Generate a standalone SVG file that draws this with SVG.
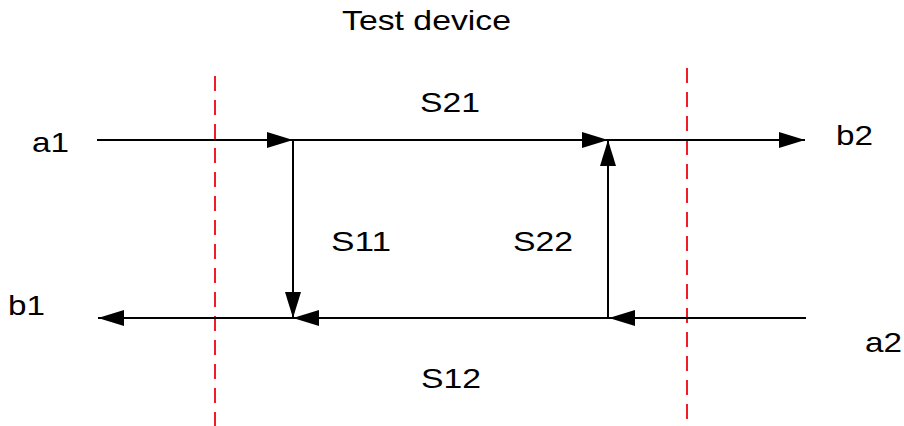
<svg xmlns="http://www.w3.org/2000/svg" width="904" height="426" viewBox="0 0 904 426">
<style>
text{font-family:"Liberation Sans",Arial,sans-serif;font-size:28px;fill:#000}
.conn{stroke:#000;stroke-width:2;fill:none;marker-end:url(#ah)}
.bound{stroke:#ee1c25;stroke-width:2;stroke-dasharray:15 9;fill:none}
</style>
<defs>
<marker id="ah" markerUnits="userSpaceOnUse" markerWidth="28" markerHeight="18" refX="26" refY="8" orient="auto">
<path d="M0,0 L26,8 L0,16 Z" fill="#000"/>
</marker>
</defs>
<rect width="904" height="426" fill="#fff"/>
<g id="title"><text x="342" y="30" textLength="169" lengthAdjust="spacingAndGlyphs">Test device</text></g>
<g id="boundaries">
<line class="bound" x1="215" y1="76" x2="215" y2="426"/>
<line class="bound" x1="687" y1="68" x2="687" y2="426"/>
</g>
<g id="connectors">
<line class="conn" x1="97" y1="140" x2="293" y2="140"/>
<line class="conn" x1="293" y1="140" x2="608" y2="140"/>
<line class="conn" x1="608" y1="140" x2="805" y2="140"/>
<line class="conn" x1="293" y1="140" x2="293" y2="318"/>
<line class="conn" x1="608" y1="318" x2="608" y2="140"/>
<line class="conn" x1="806" y1="318" x2="609" y2="318"/>
<line class="conn" x1="609" y1="318" x2="293" y2="318"/>
<line class="conn" x1="293" y1="318" x2="98" y2="318"/>
</g>
<g id="a1"><text x="32" y="152" textLength="37" lengthAdjust="spacingAndGlyphs">a1</text></g>
<g id="b2"><text x="836" y="145" textLength="37" lengthAdjust="spacingAndGlyphs">b2</text></g>
<g id="b1"><text x="8" y="315" textLength="37" lengthAdjust="spacingAndGlyphs">b1</text></g>
<g id="a2"><text x="865" y="352" textLength="37" lengthAdjust="spacingAndGlyphs">a2</text></g>
<g id="S21"><text x="420" y="112" textLength="60" lengthAdjust="spacingAndGlyphs">S21</text></g>
<g id="S11"><text x="331" y="251" textLength="60" lengthAdjust="spacingAndGlyphs">S11</text></g>
<g id="S22"><text x="513" y="251" textLength="60" lengthAdjust="spacingAndGlyphs">S22</text></g>
<g id="S12"><text x="421" y="388" textLength="60" lengthAdjust="spacingAndGlyphs">S12</text></g>
</svg>
